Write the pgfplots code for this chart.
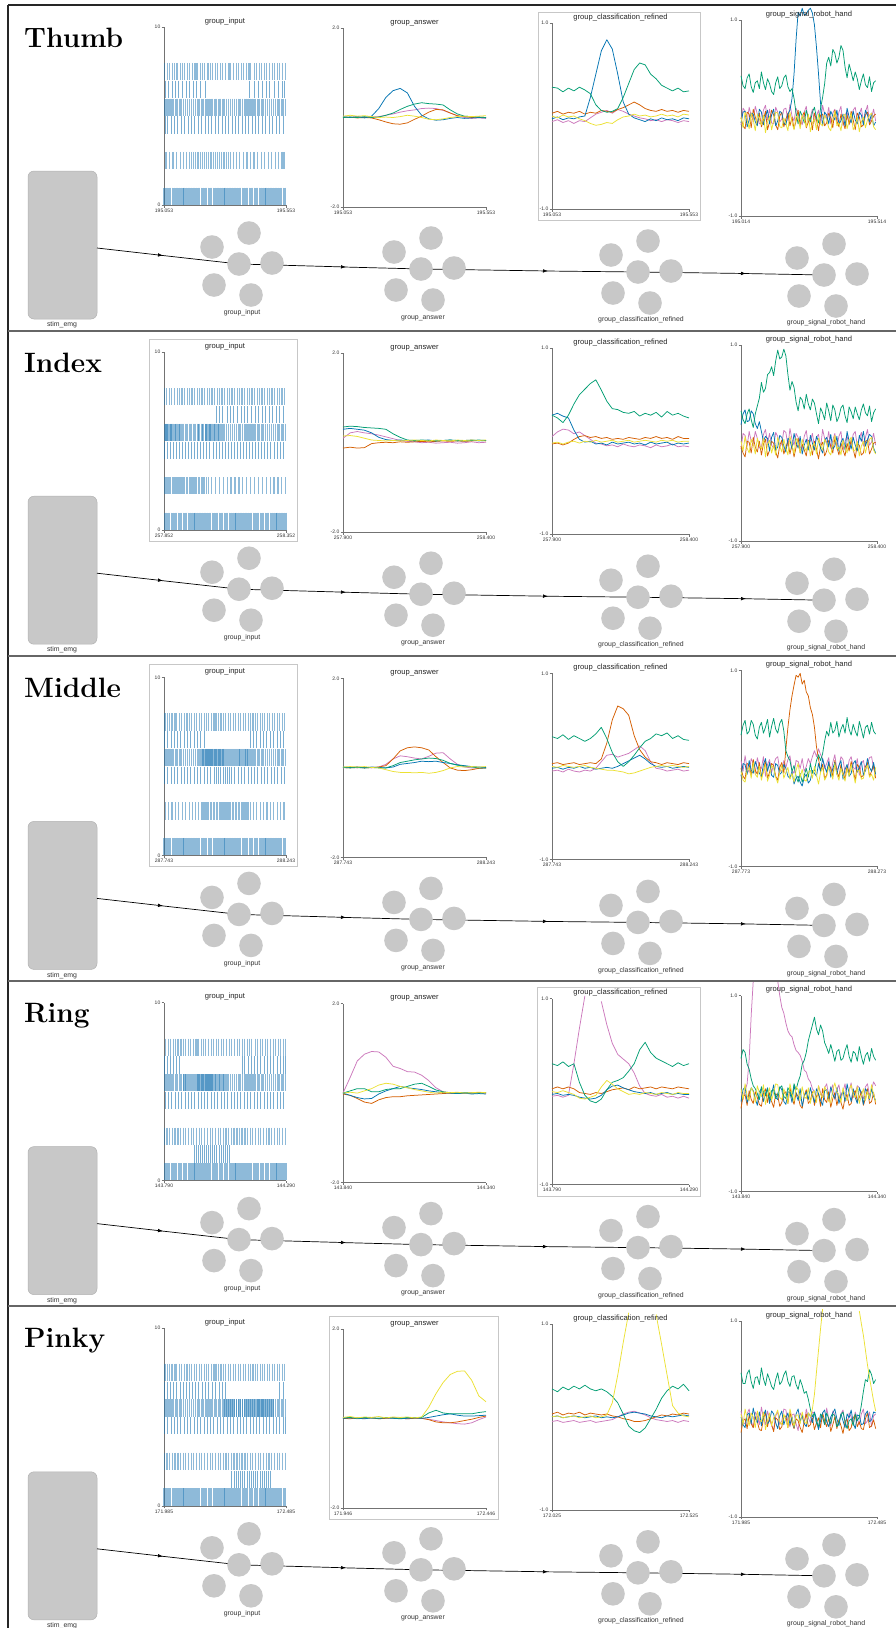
\documentclass[border=0pt]{standalone}
\usepackage{pgfplots}
\pgfplotsset{compat=1.18}
\usepackage{pgfplotstable}
\usepackage{fontspec}
\newfontfamily\lsans{Liberation Sans}
\usetikzlibrary{arrows.meta}
\definecolor{cB}{RGB}{1,115,178}
\definecolor{cG}{RGB}{2,158,115}
\definecolor{cO}{RGB}{213,94,0}
\definecolor{cP}{RGB}{204,120,188}
\definecolor{cY}{RGB}{236,225,51}
\definecolor{spkc}{RGB}{31,119,180}
\definecolor{nodegray}{RGB}{200,200,200}

% ---------------- spike trains (ms after window start) ----------------
\pgfplotstableread[row sep=\\]{t\\3\\14\\22\\35\\44\\53\\66\\75\\83\\97\\106\\118\\127\\135\\149\\158\\167\\180\\191\\199\\212\\220\\233\\241\\252\\266\\274\\285\\296\\305\\318\\327\\339\\348\\356\\370\\379\\391\\400\\412\\421\\433\\444\\452\\466\\475\\487\\497\\}\spkMa
\pgfplotstableread[row sep=\\]{t\\2\\11\\23\\31\\42\\54\\62\\74\\83\\95\\103\\115\\124\\136\\144\\156\\165\\177\\185\\197\\206\\218\\226\\238\\247\\259\\267\\279\\288\\300\\308\\320\\329\\341\\349\\361\\370\\382\\390\\402\\411\\423\\431\\443\\452\\464\\472\\484\\493\\}\spkMb
\pgfplotstableread[row sep=\\]{t\\4\\13\\24\\33\\45\\52\\64\\73\\85\\94\\104\\113\\125\\134\\145\\153\\165\\174\\184\\194\\205\\213\\225\\234\\245\\253\\265\\274\\285\\294\\304\\313\\325\\334\\345\\353\\365\\374\\384\\394\\405\\413\\425\\434\\445\\453\\465\\474\\485\\494\\}\spkMc
\pgfplotstableread[row sep=\\]{t\\7\\18\\26\\39\\48\\57\\70\\79\\87\\101\\110\\122\\131\\139\\153\\162\\171\\184\\195\\203\\216\\224\\237\\245\\256\\270\\278\\289\\300\\309\\322\\331\\343\\352\\360\\374\\383\\395\\404\\416\\425\\437\\448\\456\\470\\479\\491\\499\\}\spkMd
\pgfplotstableread[row sep=\\]{t\\5\\19\\33\\46\\61\\74\\92\\105\\119\\133\\150\\168\\352\\371\\386\\402\\419\\433\\451\\468\\484\\495\\}\spkSa
\pgfplotstableread[row sep=\\]{t\\214\\229\\241\\258\\272\\285\\301\\316\\330\\344\\359\\373\\388\\402\\417\\431\\446\\460\\474\\489\\}\spkSb
\pgfplotstableread[row sep=\\]{t\\2\\16\\29\\41\\55\\68\\83\\96\\110\\124\\138\\151\\164\\353\\366\\380\\394\\408\\421\\436\\450\\464\\478\\491\\}\spkSc
\pgfplotstableread[row sep=\\]{t\\1\\14\\27\\40\\52\\65\\320\\331\\345\\358\\370\\384\\397\\410\\424\\437\\450\\463\\477\\490\\498\\}\spkSd
\pgfplotstableread[row sep=\\]{t\\3\\15\\27\\40\\52\\66\\78\\91\\104\\117\\130\\143\\157\\171\\184\\198\\212\\226\\239\\250\\472\\490\\}\spkSe
\pgfplotstableread[row sep=\\]{t\\1\\9\\17\\24\\33\\40\\49\\56\\65\\72\\81\\88\\97\\104\\113\\121\\128\\137\\144\\153\\160\\169\\176\\185\\193\\200\\209\\216\\225\\232\\241\\249\\256\\265\\272\\281\\289\\296\\305\\312\\321\\329\\336\\345\\352\\361\\369\\376\\385\\392\\401\\409\\416\\425\\432\\441\\449\\456\\465\\472\\481\\488\\497\\}\spkDa
\pgfplotstableread[row sep=\\]{t\\5\\13\\28\\45\\61\\77\\92\\109\\124\\141\\157\\172\\189\\205\\221\\236\\}\spkXb
\pgfplotstableread[row sep=\\]{t\\150\\157\\164\\172\\180\\188\\197\\205\\213\\221\\229\\237\\245\\253\\261\\269\\277\\285\\293\\301\\309\\317\\325\\333\\341\\}\spkXc
\pgfplotstableread[row sep=\\]{t\\80\\86\\92\\100\\108\\116\\124\\132\\140\\148\\156\\164\\172\\180\\188\\196\\204\\212\\220\\228\\236\\244\\252\\260\\}\spkXd
\pgfplotstableread[row sep=\\]{t\\250\\258\\266\\274\\282\\290\\298\\306\\314\\322\\330\\338\\346\\354\\362\\370\\378\\386\\394\\402\\410\\418\\426\\434\\442\\450\\}\spkXe
\pgfplotstableread[row sep=\\]{t\\4\\16\\31\\43\\57\\70\\84\\99\\111\\126\\140\\153\\168\\182\\195\\209\\224\\238\\251\\266\\279\\293\\307\\320\\334\\348\\361\\376\\389\\404\\417\\431\\446\\459\\474\\489\\}\spkFa
\pgfplotstableread[row sep=\\]{t\\3\\14\\27\\38\\52\\63\\77\\88\\101\\113\\126\\138\\151\\163\\176\\188\\201\\213\\226\\238\\251\\263\\276\\288\\301\\313\\326\\338\\351\\363\\376\\388\\401\\413\\426\\438\\451\\463\\476\\488\\}\spkFb
\pgfplotstableread[row sep=\\]{t\\3\\16\\29\\43\\56\\70\\83\\97\\110\\124\\137\\151\\164\\178\\191\\205\\215\\225\\233\\242\\250\\258\\267\\276\\290\\304\\318\\331\\345\\358\\372\\385\\399\\412\\426\\439\\453\\466\\480\\493\\}\spkFc
\pgfplotstableread[row sep=\\]{t\\5\\18\\32\\45\\59\\72\\86\\99\\113\\126\\140\\153\\167\\180\\194\\207\\221\\234\\248\\261\\275\\288\\302\\315\\329\\342\\356\\369\\383\\396\\410\\423\\437\\450\\464\\477\\490\\}\spkFd
\pgfplotstableread[row sep=\\]{t\\2\\15\\29\\42\\56\\69\\83\\96\\110\\123\\137\\150\\164\\177\\191\\204\\218\\231\\245\\258\\272\\285\\299\\312\\326\\339\\353\\366\\380\\393\\407\\420\\434\\447\\461\\474\\488\\499\\}\spkFe
\pgfplotstableread[row sep=\\]{t\\8\\22\\37\\51\\66\\80\\92\\103\\112\\120\\128\\136\\143\\151\\158\\166\\173\\181\\189\\196\\204\\212\\220\\228\\237\\246\\255\\265\\274\\285\\297\\311\\326\\340\\355\\369\\384\\398\\413\\427\\441\\456\\470\\484\\492\\}\spkTa
\pgfplotstableread[row sep=\\]{t\\1\\6\\12\\17\\23\\28\\34\\40\\45\\51\\57\\62\\68\\74\\80\\85\\91\\97\\103\\109\\115\\121\\127\\134\\140\\147\\153\\160\\167\\175\\182\\196\\212\\228\\243\\259\\275\\291\\307\\323\\339\\355\\371\\387\\403\\419\\435\\451\\467\\483\\497\\}\spkTb
\pgfplotstableread[row sep=\\]{t\\5\\19\\33\\47\\61\\75\\89\\103\\117\\130\\142\\153\\160\\166\\172\\178\\184\\190\\196\\202\\208\\214\\220\\226\\232\\238\\244\\250\\256\\262\\268\\274\\280\\286\\292\\298\\304\\310\\316\\322\\328\\334\\340\\347\\355\\366\\380\\394\\408\\422\\436\\450\\464\\478\\492\\}\spkTc
\pgfplotstableread[row sep=\\]{t\\2\\12\\24\\34\\45\\57\\67\\79\\89\\100\\112\\122\\134\\144\\155\\167\\177\\189\\199\\210\\222\\232\\244\\254\\265\\277\\287\\299\\309\\320\\332\\342\\354\\364\\375\\387\\397\\409\\419\\430\\442\\452\\464\\474\\485\\497\\}\spkTd
\pgfplotstableread[row sep=\\]{t\\126\\134\\141\\150\\158\\166\\175\\183\\191\\200\\208\\217\\226\\234\\243\\252\\261\\270\\}\spkOd
\pgfplotstableread[row sep=\\]{t\\278\\287\\296\\305\\313\\322\\331\\340\\349\\358\\367\\376\\385\\394\\403\\412\\421\\430\\437\\}\spkOe
\pgfplotstableread[row sep=\\]{t\\0\\7\\14\\20\\27\\35\\41\\48\\56\\62\\69\\77\\83\\90\\98\\104\\111\\119\\125\\132\\140\\146\\153\\161\\167\\174\\182\\188\\195\\203\\209\\216\\224\\230\\237\\245\\251\\258\\266\\272\\279\\287\\293\\300\\308\\314\\321\\329\\335\\342\\350\\356\\363\\371\\377\\384\\392\\398\\405\\413\\419\\426\\434\\440\\447\\455\\461\\468\\476\\482\\489\\497\\}\spkVa
\pgfplotstableread[row sep=\\]{t\\3\\10\\17\\23\\30\\38\\44\\51\\59\\65\\72\\80\\86\\93\\101\\107\\114\\122\\128\\135\\143\\149\\156\\164\\170\\177\\185\\191\\198\\206\\212\\219\\227\\233\\240\\248\\254\\261\\269\\275\\282\\290\\296\\303\\311\\317\\324\\332\\338\\345\\353\\359\\366\\374\\380\\387\\395\\401\\408\\416\\422\\429\\437\\443\\450\\458\\464\\471\\479\\485\\492\\499\\}\spkVb

% ---------------- group_answer ----------------
\pgfplotstableread{
t b o g p y
0 0.02 0.00 0.00 0.01 0.03
25 0.00 0.01 0.01 0.00 0.05
50 0.02 -0.01 0.00 0.02 0.03
75 -0.01 0.00 0.02 0.00 0.04
100 0.03 -0.01 0.00 0.01 0.02
125 0.20 -0.05 0.01 0.02 0.00
150 0.45 -0.10 0.05 0.05 0.01
175 0.60 -0.14 0.10 0.08 0.00
200 0.65 -0.15 0.18 0.12 0.02
225 0.55 -0.12 0.25 0.15 0.05
250 0.25 -0.04 0.30 0.17 0.03
275 0.05 0.03 0.33 0.20 0.00
300 -0.03 0.12 0.31 0.21 -0.04
325 -0.06 0.18 0.30 0.20 -0.05
350 -0.05 0.17 0.28 0.16 -0.03
375 -0.02 0.10 0.17 0.10 0.00
400 0.00 0.04 0.08 0.04 0.02
425 -0.02 0.02 0.03 0.00 0.03
450 -0.01 0.00 0.02 -0.02 0.02
475 0.00 0.01 0.01 -0.01 0.03
500 -0.01 0.00 0.00 -0.02 0.04
}\Aa
\pgfplotstableread{
t b o g p y
0 0.30 -0.12 0.35 0.10 0.15
25 0.32 -0.10 0.37 0.22 0.16
50 0.30 -0.12 0.36 0.25 0.14
75 0.28 -0.11 0.34 0.22 0.10
100 0.22 -0.02 0.33 0.20 0.06
125 0.12 0.00 0.32 0.17 0.05
150 0.07 0.01 0.30 0.13 0.04
175 0.05 0.00 0.20 0.09 0.05
200 0.06 0.02 0.12 0.05 0.04
225 0.05 0.01 0.06 0.03 0.05
250 0.04 0.02 0.05 0.02 0.06
275 0.05 0.03 0.06 0.00 0.05
300 0.06 0.02 0.05 0.01 0.04
325 0.04 0.03 0.04 -0.01 0.06
350 0.05 0.04 0.05 0.00 0.05
375 0.06 0.03 0.06 0.01 0.04
400 0.04 0.04 0.05 -0.01 0.06
425 0.05 0.03 0.04 0.00 0.05
450 0.06 0.04 0.05 0.02 0.06
475 0.04 0.05 0.06 0.00 0.05
500 0.05 0.04 0.05 0.01 0.06
}\Ab
\pgfplotstableread{
t b o g p y
0 0.02 0.01 0.01 0.00 0.02
25 0.01 0.00 0.00 0.01 0.03
50 0.02 0.02 0.01 0.00 0.02
75 0.00 0.00 0.00 0.01 0.03
100 0.02 0.01 0.01 0.00 0.01
125 0.01 0.02 0.00 0.02 0.00
150 0.00 0.05 0.00 0.08 -0.04
175 0.02 0.20 0.05 0.20 -0.08
200 0.08 0.38 0.12 0.27 -0.10
225 0.10 0.45 0.15 0.25 -0.10
250 0.12 0.47 0.18 0.22 -0.11
275 0.15 0.45 0.20 0.20 -0.10
300 0.14 0.40 0.22 0.26 -0.12
325 0.15 0.25 0.21 0.33 -0.10
350 0.12 0.12 0.17 0.34 -0.06
375 0.10 0.00 0.10 0.20 0.00
400 0.07 -0.05 0.06 0.08 0.03
425 0.05 -0.06 0.04 0.02 0.02
450 0.03 -0.04 0.02 0.00 0.03
475 0.02 -0.01 0.00 -0.01 0.02
500 0.01 0.00 0.00 0.00 0.03
}\Ac
\pgfplotstableread{
t b o g p y
0 0.00 -0.02 0.00 0.00 0.00
25 -0.05 -0.05 0.05 0.35 0.02
50 -0.10 -0.12 0.10 0.72 0.00
75 -0.13 -0.20 0.10 0.87 0.05
100 -0.12 -0.23 0.03 0.93 0.10
125 -0.02 -0.15 0.03 0.92 0.18
150 0.05 -0.10 0.08 0.80 0.22
175 0.10 -0.08 0.10 0.60 0.20
200 0.15 -0.08 0.10 0.55 0.15
225 0.12 -0.06 0.15 0.48 0.12
250 0.10 -0.05 0.20 0.47 0.08
275 0.08 -0.04 0.22 0.40 0.05
300 0.05 -0.03 0.15 0.28 0.02
325 0.03 -0.02 0.07 0.12 0.00
350 0.01 -0.01 0.03 0.03 0.02
375 0.00 0.00 0.01 0.00 0.01
400 -0.01 -0.01 0.00 0.01 0.02
425 0.00 0.00 0.01 -0.01 0.00
450 -0.02 0.00 0.00 0.00 0.01
475 -0.01 0.01 0.00 0.01 0.02
500 -0.02 0.00 0.01 0.00 0.01
}\Ad
\pgfplotstableread{
t b o g p y
0 0.00 0.00 0.01 0.00 0.02
25 0.01 -0.01 0.02 0.01 0.04
50 0.00 0.01 0.00 -0.01 0.01
75 -0.01 0.00 0.02 0.00 0.03
100 0.01 0.01 0.01 0.01 0.02
125 0.00 -0.01 0.00 -0.01 0.04
150 0.01 0.00 0.02 0.00 0.01
175 0.00 0.01 0.01 0.01 0.03
200 -0.01 0.00 0.00 0.00 0.02
225 0.00 -0.01 0.02 -0.01 0.03
250 0.01 0.00 0.01 0.00 0.01
275 0.00 0.00 0.02 0.00 0.03
300 0.02 -0.03 0.12 -0.02 0.25
325 0.05 -0.08 0.18 -0.05 0.55
350 0.08 -0.10 0.12 -0.08 0.80
375 0.10 -0.10 0.10 -0.10 0.98
400 0.07 -0.08 0.10 -0.12 1.05
425 0.05 -0.05 0.10 -0.13 1.06
450 0.05 -0.02 0.10 -0.10 0.85
475 0.06 0.02 0.13 -0.03 0.50
500 0.07 0.05 0.15 0.03 0.37
}\Ae

% ---------------- group_classification_refined ----------------
\pgfplotstableread{
t b o g p y
0 -0.03 0.03 0.31 -0.06 0.00
20 -0.01 0.05 0.30 -0.04 -0.02
40 -0.04 0.02 0.26 -0.07 0.01
60 -0.02 0.04 0.30 -0.05 -0.01
80 -0.03 0.03 0.27 -0.08 0.00
100 -0.01 0.05 0.31 -0.05 -0.03
120 0.00 0.02 0.28 -0.06 -0.05
140 0.20 0.04 0.24 -0.02 -0.08
160 0.45 0.03 0.12 0.02 -0.10
180 0.70 0.06 0.06 0.04 -0.09
200 0.82 0.05 0.04 0.06 -0.07
220 0.72 0.04 0.05 0.03 -0.08
240 0.45 0.07 0.08 0.07 -0.04
260 0.15 0.09 0.20 0.05 -0.01
280 0.02 0.12 0.35 0.02 0.00
300 -0.02 0.15 0.50 0.00 0.02
320 -0.04 0.12 0.57 -0.02 0.00
340 -0.06 0.08 0.55 -0.03 0.01
360 -0.03 0.06 0.45 -0.05 -0.01
380 -0.05 0.05 0.40 -0.04 0.00
400 -0.02 0.07 0.33 -0.06 0.02
420 -0.04 0.05 0.30 -0.04 0.00
440 -0.03 0.06 0.27 -0.05 0.01
460 -0.05 0.04 0.30 -0.07 -0.01
480 -0.02 0.06 0.26 -0.05 0.02
500 -0.03 0.05 0.27 -0.06 0.01
}\Ca
\pgfplotstableread{
t b o g p y
0 0.28 -0.03 0.28 0.05 -0.02
20 0.30 -0.02 0.25 0.10 -0.01
40 0.27 -0.04 0.20 0.13 -0.03
60 0.25 -0.02 0.28 0.12 -0.01
80 0.12 0.02 0.40 0.08 0.00
100 0.02 0.05 0.50 0.10 -0.02
120 -0.01 0.06 0.56 0.06 0.00
140 0.00 0.04 0.62 0.02 -0.01
160 -0.03 0.05 0.66 -0.02 0.01
180 -0.02 0.03 0.55 -0.03 -0.01
200 -0.04 0.04 0.43 -0.05 0.00
220 -0.01 0.02 0.35 -0.04 0.01
240 -0.03 0.03 0.34 -0.06 -0.01
260 -0.02 0.02 0.31 -0.03 0.00
280 -0.01 0.04 0.30 -0.05 0.01
300 -0.03 0.03 0.32 -0.06 -0.01
320 -0.02 0.02 0.27 -0.04 0.00
340 -0.04 0.04 0.30 -0.05 0.01
360 -0.01 0.03 0.28 -0.07 0.00
380 -0.03 0.05 0.31 -0.04 -0.01
400 -0.02 0.03 0.26 -0.06 0.01
420 -0.01 0.04 0.32 -0.05 0.00
440 -0.04 0.02 0.28 -0.03 0.01
460 -0.02 0.05 0.30 -0.06 -0.01
480 -0.03 0.03 0.27 -0.05 0.00
500 -0.02 0.03 0.25 -0.06 0.00
}\Cb
\pgfplotstableread{
t b o g p y
0 -0.02 0.03 0.32 -0.05 0.00
20 -0.01 0.04 0.30 -0.04 -0.01
40 -0.03 0.02 0.34 -0.06 0.01
60 -0.01 0.03 0.29 -0.03 0.00
80 -0.02 0.04 0.33 -0.05 -0.01
100 0.00 0.02 0.30 -0.06 0.00
120 -0.02 0.03 0.27 -0.04 0.01
140 -0.01 0.04 0.30 -0.05 -0.01
160 -0.03 0.03 0.35 -0.02 -0.02
180 -0.02 0.08 0.42 0.05 -0.03
200 -0.01 0.25 0.30 0.12 -0.04
220 -0.02 0.50 0.15 0.13 -0.04
240 0.00 0.65 0.05 0.10 -0.05
260 0.03 0.62 0.00 0.12 -0.06
280 0.06 0.55 0.05 0.14 -0.08
300 0.09 0.33 0.12 0.18 -0.07
320 0.12 0.18 0.20 0.22 -0.05
340 0.08 0.10 0.27 0.17 -0.03
360 0.03 0.05 0.30 0.05 -0.01
380 0.00 0.04 0.35 -0.02 0.00
400 -0.01 0.02 0.33 -0.03 0.01
420 0.00 0.04 0.36 -0.05 0.00
440 -0.02 0.03 0.30 -0.04 0.01
460 -0.01 0.02 0.33 -0.03 0.00
480 0.00 0.04 0.29 -0.05 -0.01
500 -0.01 0.03 0.28 -0.04 0.00
}\Cc
\pgfplotstableread{
t b o g p y
0 -0.03 0.03 0.30 -0.05 0.00
20 -0.02 0.05 0.28 -0.04 -0.01
40 -0.04 0.03 0.32 -0.06 0.01
60 -0.03 0.05 0.27 -0.04 -0.01
80 -0.04 0.03 0.30 0.30 -0.03
100 -0.06 -0.01 0.10 0.68 -0.07
120 -0.07 -0.02 -0.04 1.03 -0.08
140 -0.08 -0.03 -0.10 nan -0.06
160 -0.07 -0.01 -0.12 nan -0.04
180 -0.04 -0.02 -0.08 0.97 0.05
200 0.02 0.00 0.02 0.72 0.12
220 0.06 0.02 0.10 0.52 0.08
240 0.07 0.03 0.12 0.40 0.03
260 0.04 0.04 0.15 0.35 0.00
280 0.02 0.02 0.22 0.30 -0.03
300 0.00 0.05 0.30 0.20 -0.02
320 -0.01 0.03 0.45 0.06 -0.03
340 -0.02 0.04 0.53 -0.02 -0.01
360 -0.01 0.05 0.42 -0.04 -0.02
380 -0.03 0.03 0.36 -0.05 -0.03
400 -0.02 0.05 0.33 -0.03 -0.01
420 -0.01 0.04 0.30 -0.06 -0.02
440 -0.03 0.03 0.27 -0.05 -0.03
460 -0.02 0.05 0.31 -0.07 -0.01
480 -0.03 0.04 0.28 -0.05 -0.02
500 -0.03 0.03 0.30 -0.07 -0.02
}\Cd
\pgfplotstableread{
t b o g p y
0 0.00 0.03 0.30 -0.05 0.00
20 0.01 0.05 0.27 -0.04 0.01
40 -0.01 0.02 0.32 -0.06 -0.01
60 0.00 0.04 0.29 -0.05 0.00
80 0.01 0.03 0.33 -0.04 0.01
100 0.00 0.05 0.30 -0.06 -0.01
120 -0.01 0.02 0.34 -0.05 0.00
140 0.00 0.04 0.30 -0.04 0.01
160 0.01 0.03 0.28 -0.06 -0.01
180 -0.01 0.02 0.30 -0.05 0.00
200 0.00 0.03 0.27 -0.04 0.02
220 -0.01 0.01 0.22 -0.03 0.15
240 0.00 0.00 0.15 0.00 0.45
260 0.02 -0.02 0.03 0.03 0.80
280 0.04 -0.03 -0.10 0.05 1.12
300 0.05 -0.05 -0.15 0.06 nan
320 0.04 -0.05 -0.17 0.04 nan
340 0.03 -0.04 -0.12 0.02 nan
360 0.01 -0.02 -0.02 -0.01 nan
380 0.00 0.00 0.08 -0.03 1.10
400 -0.01 0.02 0.20 -0.04 0.78
420 0.01 0.01 0.28 -0.05 0.45
440 0.00 0.03 0.33 -0.04 0.12
460 0.01 0.02 0.30 -0.06 0.04
480 0.02 0.04 0.35 -0.04 0.01
500 0.01 0.03 0.28 -0.05 0.00
}\Ce

% ---------------- group_signal_robot_hand ----------------
\pgfplotstableread{
t b o g p y
0 -0.05 0.00 0.43 -0.07 0.01
7.5 0.06 -0.08 0.33 0.10 -0.10
15 0.07 -0.11 0.30 0.07 0.06
22.5 -0.09 0.06 0.41 -0.04 -0.02
30 -0.02 0.04 0.45 0.11 -0.11
37.5 0.05 -0.10 0.32 0.02 0.05
45 0.04 0.09 0.26 -0.02 -0.02
52.5 -0.04 0.01 0.36 0.12 -0.13
60 -0.08 -0.06 0.38 0.04 0.04
67.5 0.09 0.05 0.30 -0.06 -0.01
75 0.06 -0.09 0.47 -0.05 -0.07
82.5 -0.07 -0.02 0.36 0.08 0.03
90 0.02 0.07 0.29 0.13 -0.15
97.5 0.08 -0.12 0.40 -0.02 -0.04
105 -0.06 -0.04 0.35 0.09 0.02
112.5 0.03 0.08 0.27 -0.05 -0.12
120 0.09 0.03 0.24 -0.06 -0.03
127.5 -0.08 -0.07 0.36 0.11 0.06
135 -0.03 -0.12 0.42 0.06 0.05
142.5 0.07 0.02 0.30 -0.04 -0.09
150 0.05 0.06 0.33 -0.01 -0.10
157.5 -0.05 -0.09 0.41 0.09 0.00
165 -0.07 -0.01 0.44 0.10 -0.06
172.5 0.04 0.05 0.32 -0.03 -0.13
180 0.08 -0.08 0.27 0.14 0.06
187.5 0.20 0.01 0.30 0.02 -0.05
195 0.45 -0.11 0.20 -0.03 -0.12
202.5 0.80 -0.03 0.05 0.10 0.02
210 1.08 0.08 -0.06 0.05 0.00
217.5 1.04 -0.08 0.07 -0.02 -0.11
225 1.12 0.02 0.02 -0.07 0.03
232.5 1.05 0.06 -0.05 0.06 -0.02
240 1.06 -0.10 0.08 0.12 -0.09
247.5 1.10 -0.04 0.00 -0.05 0.04
255 1.12 0.01 -0.04 0.01 -0.14
262.5 1.07 -0.12 0.06 0.09 -0.05
270 0.95 0.05 0.11 -0.04 -0.01
277.5 0.72 -0.02 0.00 0.02 -0.12
285 0.45 -0.13 -0.05 0.08 0.04
292.5 0.15 0.03 0.10 -0.06 -0.06
300 -0.08 0.04 0.21 0.13 -0.08
307.5 0.06 -0.08 0.35 0.04 0.03
315 0.03 -0.05 0.56 -0.01 -0.02
322.5 -0.06 0.05 0.62 0.11 -0.10
330 0.07 0.00 0.53 -0.06 -0.13
337.5 0.02 -0.10 0.70 0.05 -0.01
345 -0.02 0.08 0.66 0.09 0.07
352.5 0.08 -0.03 0.56 -0.04 -0.08
360 -0.06 -0.09 0.62 0.06 -0.05
367.5 -0.03 0.04 0.74 0.12 -0.13
375 0.04 -0.04 0.69 -0.08 0.02
382.5 -0.08 -0.11 0.52 0.03 0.04
390 0.10 0.03 0.41 0.07 -0.11
397.5 0.01 -0.06 0.55 -0.07 -0.03
405 -0.05 0.07 0.47 -0.02 0.05
412.5 0.07 -0.02 0.38 0.08 -0.12
420 -0.02 -0.12 0.47 0.11 -0.08
427.5 -0.06 0.05 0.40 -0.03 0.01
435 0.06 0.01 0.29 0.04 -0.14
442.5 0.03 -0.09 0.38 0.10 -0.04
450 -0.07 -0.07 0.45 -0.04 0.01
457.5 0.08 0.03 0.34 0.06 -0.10
465 0.03 0.06 0.31 0.13 -0.02
472.5 -0.04 -0.07 0.42 -0.05 0.03
480 0.05 -0.03 0.27 0.00 0.05
487.5 -0.08 0.02 0.36 0.09 -0.09
495 -0.04 0.04 0.38 -0.03 -0.12
}\Sa
\pgfplotstableread{
t b o g p y
0 0.19 -0.03 0.33 -0.06 0.02
7.5 0.30 -0.10 0.24 0.10 -0.08
15 0.34 -0.14 0.20 0.08 0.07
22.5 0.22 0.02 0.30 -0.03 -0.05
30 0.23 0.01 0.35 0.12 -0.10
37.5 0.33 -0.10 0.24 0.02 0.04
45 0.30 0.06 0.16 -0.01 -0.01
52.5 0.20 -0.04 0.30 0.12 -0.11
60 0.15 -0.09 0.38 0.05 0.05
67.5 0.22 0.02 0.46 -0.05 -0.02
75 0.12 -0.12 0.62 -0.04 -0.06
82.5 0.02 -0.01 0.52 0.09 0.05
90 0.07 0.04 0.56 0.14 -0.14
97.5 0.05 -0.13 0.70 0.00 -0.01
105 -0.08 -0.07 0.72 0.10 0.03
112.5 0.06 0.02 0.78 -0.02 -0.10
120 0.11 0.00 0.69 -0.05 -0.02
127.5 -0.07 -0.09 0.84 0.11 -0.12
135 -0.04 -0.15 0.95 0.07 0.06
142.5 0.08 -0.02 0.86 -0.04 -0.03
150 0.06 0.03 0.88 0.00 -0.09
157.5 -0.03 -0.11 0.96 0.13 0.04
165 -0.09 -0.04 0.89 0.11 -0.05
172.5 0.05 0.02 0.70 -0.03 -0.12
180 0.03 -0.11 0.54 0.15 0.07
187.5 -0.06 -0.01 0.63 0.04 -0.02
195 0.10 -0.14 0.57 -0.02 -0.11
202.5 0.01 -0.04 0.42 0.10 0.05
210 -0.05 0.05 0.33 0.06 0.01
217.5 0.07 -0.10 0.47 -0.04 -0.10
225 -0.11 -0.01 0.44 -0.06 0.04
232.5 -0.02 -0.07 0.35 0.07 -0.04
240 0.04 -0.13 0.50 0.13 -0.08
247.5 -0.07 0.03 0.40 -0.03 0.02
255 0.08 -0.02 0.34 0.02 -0.13
262.5 0.00 -0.12 0.45 0.10 -0.03
270 -0.07 0.02 0.41 -0.03 0.00
277.5 0.07 -0.06 0.30 0.06 -0.11
285 0.02 -0.16 0.20 0.09 0.05
292.5 -0.05 -0.03 0.36 -0.05 -0.02
300 -0.10 0.01 0.31 0.14 -0.07
307.5 0.03 -0.13 0.24 0.05 0.04
315 0.06 -0.08 0.41 0.00 -0.01
322.5 -0.04 0.03 0.33 0.12 -0.09
330 0.09 -0.03 0.23 -0.05 -0.12
337.5 -0.06 -0.10 0.39 0.03 -0.01
345 -0.03 0.05 0.34 0.10 0.08
352.5 0.07 -0.04 0.22 -0.04 -0.06
360 -0.08 -0.12 0.27 0.07 -0.04
367.5 0.01 0.00 0.36 0.12 -0.12
375 0.05 -0.07 0.39 -0.07 0.03
382.5 -0.07 -0.13 0.28 0.02 -0.05
390 0.12 0.00 0.21 0.08 -0.10
397.5 0.02 -0.08 0.37 -0.05 0.03
405 -0.06 0.04 0.32 -0.01 0.06
412.5 0.06 -0.06 0.25 0.09 -0.08
420 -0.02 -0.15 0.37 0.12 -0.07
427.5 -0.08 -0.01 0.30 -0.03 0.02
435 0.08 -0.02 0.24 0.05 -0.13
442.5 0.02 -0.12 0.34 0.11 -0.03
450 0.12 -0.10 0.40 -0.03 0.02
457.5 -0.03 0.02 0.31 0.06 -0.10
465 0.04 0.03 0.28 0.14 -0.01
472.5 0.09 -0.11 0.38 -0.02 0.04
480 0.07 -0.06 0.22 0.01 0.06
487.5 -0.05 0.00 0.31 0.10 -0.07
495 -0.10 0.01 0.35 -0.02 -0.11
}\Sb
\pgfplotstableread{
t b o g p y
0 -0.08 0.00 0.34 0.08 -0.03
7.5 0.05 -0.08 0.44 -0.03 -0.12
15 0.04 -0.11 0.49 0.13 -0.14
22.5 -0.06 0.05 0.35 0.00 -0.02
30 0.08 0.04 0.38 -0.04 0.01
37.5 -0.02 -0.07 0.49 0.10 -0.10
45 -0.05 0.09 0.45 0.05 0.06
52.5 0.07 -0.02 0.34 -0.05 -0.06
60 0.01 -0.06 0.30 0.11 -0.09
67.5 -0.05 0.06 0.42 0.02 0.02
75 -0.08 -0.09 0.47 0.00 -0.12
82.5 0.04 -0.03 0.36 0.12 -0.03
90 0.10 0.07 0.42 -0.08 0.04
97.5 -0.03 -0.10 0.50 0.04 -0.13
105 0.06 -0.04 0.32 0.09 -0.07
112.5 -0.07 0.05 0.43 -0.04 0.03
120 -0.09 0.03 0.51 0.04 0.00
127.5 0.05 -0.08 0.40 0.10 -0.09
135 0.03 -0.12 0.36 0.12 -0.15
142.5 -0.06 0.01 0.46 -0.02 -0.04
150 -0.04 0.06 0.50 -0.03 0.03
157.5 0.04 -0.05 0.38 0.08 -0.10
165 0.00 0.20 0.18 0.01 -0.04
172.5 -0.08 0.42 0.12 0.09 0.01
180 -0.10 0.60 0.08 0.13 -0.11
187.5 -0.03 0.74 -0.03 -0.02 -0.05
195 -0.16 0.85 0.03 -0.05 -0.14
202.5 -0.10 0.95 -0.08 0.08 -0.02
210 -0.08 0.93 -0.14 0.07 0.05
217.5 -0.14 0.97 -0.05 0.00 -0.09
225 -0.18 0.86 -0.14 0.10 -0.01
232.5 -0.09 0.90 -0.07 -0.03 -0.12
240 -0.06 0.78 0.00 0.02 -0.13
247.5 -0.15 0.74 -0.09 0.10 -0.04
255 -0.12 0.62 0.05 0.05 -0.02
262.5 -0.02 0.55 -0.05 0.12 -0.10
270 -0.05 0.42 -0.02 0.18 0.02
277.5 -0.08 0.22 0.08 0.12 -0.07
285 0.05 0.10 0.14 0.20 -0.16
292.5 -0.03 -0.03 0.08 0.14 -0.04
300 0.10 0.04 0.15 0.10 0.01
307.5 0.02 -0.10 0.28 0.00 -0.12
315 -0.04 -0.07 0.38 0.05 -0.08
322.5 0.07 0.05 0.33 0.11 0.02
330 -0.09 0.00 0.47 -0.06 -0.03
337.5 0.00 -0.08 0.36 0.06 -0.11
345 0.06 0.08 0.39 0.14 0.05
352.5 -0.06 -0.03 0.48 -0.02 -0.06
360 0.03 -0.09 0.32 0.02 -0.12
367.5 0.08 0.04 0.40 0.12 0.00
375 -0.11 -0.04 0.45 0.09 -0.07
382.5 -0.01 -0.11 0.36 -0.04 -0.13
390 0.04 0.03 0.52 -0.04 0.00
397.5 -0.08 -0.05 0.40 0.08 -0.08
405 -0.05 0.07 0.34 0.12 0.04
412.5 0.05 -0.02 0.45 0.01 -0.05
420 0.08 -0.12 0.38 -0.01 -0.15
427.5 -0.04 0.04 0.33 0.10 -0.02
435 0.01 0.01 0.48 -0.07 -0.02
442.5 0.07 -0.09 0.40 0.05 -0.11
450 -0.07 -0.07 0.31 0.08 -0.10
457.5 -0.02 0.02 0.42 -0.03 0.00
465 0.10 0.06 0.44 0.05 0.03
472.5 0.01 -0.08 0.35 0.11 -0.09
480 -0.03 -0.03 0.47 0.12 -0.06
487.5 0.06 0.03 0.38 0.00 -0.12
495 -0.06 -0.10 0.35 -0.05 0.01
}\Sc
\pgfplotstableread{
t b o g p y
0 -0.08 -0.15 0.36 0.02 0.05
7.5 0.04 -0.03 0.45 -0.06 -0.06
15 0.07 -0.01 0.42 0.03 0.10
22.5 -0.09 -0.12 0.30 0.10 -0.02
30 -0.04 0.03 0.25 0.35 -0.07
37.5 0.06 -0.06 0.15 0.80 0.06
45 0.03 -0.10 0.08 1.15 0.02
52.5 -0.05 0.02 0.05 nan -0.09
60 -0.12 -0.04 0.00 nan 0.08
67.5 0.02 -0.11 -0.06 nan 0.01
75 0.05 -0.13 0.07 nan -0.03
82.5 -0.08 0.00 0.02 nan 0.09
90 0.00 0.05 -0.02 nan -0.11
97.5 0.06 -0.09 0.05 nan -0.02
105 -0.10 0.01 -0.06 nan 0.06
112.5 -0.01 -0.08 0.03 nan -0.07
120 0.09 -0.14 0.04 nan 0.01
127.5 -0.04 0.00 -0.05 nan 0.10
135 -0.06 -0.02 0.00 1.15 0.09
142.5 0.07 -0.13 0.06 1.00 -0.04
150 0.04 -0.09 0.08 0.88 -0.06
157.5 -0.08 0.00 -0.03 0.82 0.05
165 -0.11 0.02 -0.05 0.72 -0.02
172.5 0.02 -0.10 0.06 0.64 -0.10
180 0.01 0.06 0.02 0.60 0.10
187.5 -0.09 -0.04 -0.04 0.58 0.00
195 0.08 -0.11 0.10 0.50 -0.08
202.5 0.00 0.01 0.04 0.44 0.07
210 -0.07 -0.03 0.12 0.42 0.04
217.5 0.05 -0.12 0.18 0.39 -0.07
225 -0.13 -0.15 0.30 0.33 0.07
232.5 -0.03 -0.02 0.34 0.24 -0.03
240 0.02 0.04 0.42 0.22 -0.05
247.5 -0.06 -0.10 0.54 0.15 0.06
255 0.06 -0.07 0.62 0.12 -0.10
262.5 -0.02 0.02 0.70 0.05 0.00
270 -0.09 -0.12 0.78 0.02 0.03
277.5 0.05 -0.03 0.66 -0.04 -0.09
285 0.00 0.00 0.60 0.08 0.08
292.5 -0.07 -0.13 0.70 0.01 -0.01
300 -0.12 0.05 0.64 -0.04 -0.04
307.5 0.03 -0.06 0.52 0.06 0.07
315 0.04 -0.09 0.47 0.10 0.02
322.5 -0.06 0.02 0.41 -0.02 -0.08
330 0.07 -0.14 0.50 0.03 -0.09
337.5 -0.01 -0.05 0.42 0.09 0.04
345 -0.05 0.01 0.33 -0.06 0.11
352.5 0.06 -0.12 0.43 0.04 0.02
360 -0.10 -0.02 0.45 0.09 -0.01
367.5 -0.02 -0.09 0.34 -0.04 -0.09
375 0.03 -0.16 0.36 0.02 0.06
382.5 -0.08 -0.04 0.44 0.10 -0.02
390 0.10 -0.01 0.50 -0.07 -0.07
397.5 0.00 -0.12 0.38 0.03 0.03
405 -0.08 -0.10 0.32 0.11 0.09
412.5 0.05 0.00 0.43 -0.04 -0.01
420 -0.04 0.03 0.41 0.00 -0.04
427.5 -0.10 -0.08 0.33 0.08 0.07
435 0.06 -0.04 0.48 0.06 -0.10
442.5 0.00 0.02 0.38 -0.03 -0.02
450 -0.11 -0.12 0.30 -0.05 0.05
457.5 0.05 -0.05 0.39 0.07 -0.07
465 0.02 0.05 0.42 0.10 0.02
472.5 -0.06 -0.10 0.33 -0.02 -0.05
480 0.05 -0.08 0.46 0.04 0.09
487.5 -0.03 0.01 0.38 0.12 -0.01
495 -0.07 -0.11 0.34 0.08 -0.08
}\Sd
\pgfplotstableread{
t b o g p y
0 0.02 -0.14 0.47 0.08 0.05
7.5 -0.06 -0.02 0.36 -0.04 -0.06
15 -0.09 0.00 0.36 -0.05 0.10
22.5 0.04 -0.10 0.46 0.05 0.00
30 0.06 0.04 0.50 0.10 -0.07
37.5 -0.05 -0.05 0.38 -0.02 0.06
45 0.11 -0.09 0.31 -0.09 0.02
52.5 0.01 0.02 0.42 0.07 -0.09
60 -0.04 -0.03 0.43 0.03 0.08
67.5 0.07 -0.11 0.35 -0.06 -0.01
75 -0.07 -0.12 0.52 0.12 -0.03
82.5 0.03 0.00 0.41 0.01 0.07
90 0.09 0.06 0.34 -0.06 -0.11
97.5 -0.05 -0.08 0.46 0.08 -0.02
105 -0.02 0.02 0.40 0.00 0.06
112.5 0.08 -0.06 0.33 -0.07 -0.07
120 0.05 -0.13 0.30 -0.11 0.01
127.5 -0.04 0.01 0.40 0.03 0.04
135 -0.10 -0.01 0.47 0.07 0.09
142.5 0.03 -0.11 0.35 -0.06 -0.03
150 0.08 -0.08 0.38 -0.02 -0.06
157.5 -0.06 0.02 0.45 0.10 0.05
165 0.01 0.03 0.49 0.09 -0.02
172.5 0.06 -0.09 0.38 -0.03 -0.09
180 -0.06 0.07 0.33 -0.08 0.10
187.5 0.02 -0.04 0.43 0.04 0.01
195 -0.09 -0.10 0.44 0.05 -0.08
202.5 0.05 0.00 0.35 -0.05 0.04
210 0.10 -0.02 0.30 -0.12 0.04
217.5 -0.03 -0.09 0.40 0.06 -0.05
225 0.04 -0.14 0.34 0.02 0.07
232.5 -0.05 -0.03 0.26 -0.06 -0.03
240 -0.08 0.05 0.28 0.10 -0.05
247.5 0.06 -0.08 0.20 0.01 0.06
255 0.03 -0.06 0.10 -0.04 0.02
262.5 -0.04 0.01 0.02 0.07 0.10
270 0.07 -0.11 0.06 0.06 0.25
277.5 0.00 -0.04 -0.04 -0.05 0.48
285 -0.11 0.01 -0.08 -0.10 0.70
292.5 -0.02 -0.09 0.05 0.04 0.92
300 0.06 0.06 0.02 0.01 1.12
307.5 0.09 -0.02 -0.06 -0.06 nan
315 -0.03 -0.08 0.06 0.11 nan
322.5 -0.08 0.01 0.00 0.00 nan
330 0.02 -0.13 -0.05 -0.07 nan
337.5 0.06 -0.06 0.05 0.08 nan
345 0.10 0.02 0.03 0.04 nan
352.5 0.00 -0.10 -0.08 -0.08 nan
360 -0.07 -0.01 -0.04 -0.03 nan
367.5 0.05 -0.07 0.04 0.05 nan
375 -0.02 -0.15 0.07 0.09 nan
382.5 -0.09 -0.03 -0.03 -0.04 nan
390 0.05 0.00 -0.10 -0.09 nan
397.5 0.01 -0.12 -0.02 0.06 nan
405 0.09 -0.09 0.00 0.02 nan
412.5 -0.04 0.01 -0.07 -0.05 nan
420 -0.10 0.04 0.05 0.07 nan
427.5 0.04 -0.08 -0.02 0.00 nan
435 0.03 -0.03 0.02 -0.06 1.10
442.5 -0.06 -0.10 0.14 0.05 0.97
450 -0.05 -0.11 0.28 0.10 0.85
457.5 0.05 0.00 0.40 -0.05 0.70
465 0.08 0.06 0.38 -0.02 0.55
472.5 -0.03 -0.09 0.50 0.07 0.42
480 -0.01 -0.07 0.45 -0.08 0.30
487.5 0.07 -0.01 0.36 0.03 0.18
495 0.06 -0.10 0.40 0.05 0.08
}\Se

\pgfplotsset{
  mp/.style={scale only axis, anchor=south west,
    axis lines=left, axis line style={-, draw=black!55, line width=0.6pt},
    xmin=0, xmax=500, xtick={0,500},
    tick align=outside, major tick length=2.5pt,
    tick style={draw=black!55, line width=0.5pt},
    ticklabel style={font=\lsans\fontsize{5}{5}\selectfont, text=black!80, inner sep=1pt},
    title style={font=\lsans\fontsize{7.6}{8}\selectfont, text=black!85, at={(0.5,1)}, anchor=south, yshift=-5pt, inner sep=1pt},
    clip=false, unbounded coords=jump, filter discard warning=false,
    every axis plot/.append style={line width=0.75pt, line join=round}},
  inp/.style={mp, at={(164pt,-205pt-#1pt)}, width=122pt, height=178pt, ymin=0, ymax=10,
    ytick={0,10}, yticklabels={0,10}, title={group\_input}},
  ans/.style={mp, at={(343pt,-207pt-#1pt)}, width=143pt, height=179pt, ymin=-2, ymax=2,
    ytick={-2,2}, yticklabels={-2.0,2.0}, title={group\_answer}},
  cls/.style={mp, at={(552pt,-209pt-#1pt)}, width=137pt, height=186pt, ymin=-1, ymax=1,
    ytick={-1,1}, yticklabels={-1.0,1.0}, title={group\_classification\_refined}},
  sig/.style={mp, at={(741pt,-216pt-#1pt)}, width=136pt, height=196pt, ymin=-1, ymax=1,
    ytick={-1,1}, yticklabels={-1.0,1.0}, title={group\_signal\_robot\_hand}},
  spk/.style={only marks, mark=|, mark size=8.6pt,
    mark options={draw=spkc, line width=#1, draw opacity=0.5}},
  spk/.default=1.2pt,
  sps/.style={only marks, mark=|, mark size=8.6pt,
    mark options={draw=spkc, line width=0.9pt, draw opacity=0.6}},
}

\newcommand{\five}[1]{%
  \addplot[cP] table[x=t,y=p]{#1};
  \addplot[cO] table[x=t,y=o]{#1};
  \addplot[cB] table[x=t,y=b]{#1};
  \addplot[cG] table[x=t,y=g]{#1};
  \addplot[cY] table[x=t,y=y]{#1};
}
\newcommand{\cluster}[2]{%
  \foreach \dx/\dy in {0/0,-27/-17,10/-31,33/-1,-25/21,12/31}{%
    \fill[nodegray] ({#1+\dx},{-(#2+\dy)}) circle[radius=11.8pt];}}
\newcommand{\netrow}[2]{% #1 label, #2 offset
  \begin{scope}[yshift=-#2pt]
  \node[anchor=base west, inner sep=0pt, font=\fontsize{28}{30}\selectfont\bfseries] at (24,-47) {#1};
  \draw[draw=black!30, fill=nodegray, rounded corners=6pt, line width=0.5pt] (28,-171) rectangle (97,-319);
  \begin{scope}[line width=0.7pt, black]
    \draw[-{Latex[length=5pt,width=3.6pt]}] (97,-248) -- (163,-255.5);
    \draw (161,-255.3) -- (239,-264);
    \draw[-{Latex[length=5pt,width=3.6pt]}] (239,-264) -- (346,-267);
    \draw (344,-267) -- (421,-269);
    \draw[-{Latex[length=5pt,width=3.6pt]}] (421,-269) -- (548,-271);
    \draw (546,-271) -- (638,-272);
    \draw[-{Latex[length=5pt,width=3.6pt]}] (638,-272) -- (746,-273.5);
    \draw (744,-273.5) -- (824,-275);
  \end{scope}
  \cluster{239}{264}\cluster{421}{269}\cluster{638}{272}\cluster{824}{275}
  \begin{scope}[every node/.style={font=\lsans\fontsize{6.9}{8}\selectfont, text=black!80, inner sep=0pt}]
    \node at (62,-325) {stim\_emg};
    \node at (242,-313) {group\_input};
    \node at (423,-318) {group\_answer};
    \node at (641,-320) {group\_classification\_refined};
    \node at (826,-323) {group\_signal\_robot\_hand};
  \end{scope}
  \end{scope}}

\begin{document}
\begin{tikzpicture}[x=1pt,y=1pt]
\useasboundingbox (0,0) rectangle (896,-1628);
\fill[white] (0,0) rectangle (896,-1628);

% selection frames
\draw[black!22, line width=0.9pt] (538,-12) rectangle (700,-220);
\draw[black!22, line width=0.9pt] (149,-339.2) rectangle (297,-541.2);
\draw[black!22, line width=0.9pt] (149,-664.4) rectangle (297,-866.4);
\draw[black!22, line width=0.9pt] (537,-987.6) rectangle (700,-1196.6);
\draw[black!22, line width=0.9pt] (329,-1316.8) rectangle (498,-1519.8);

\netrow{Thumb}{0}
\netrow{Index}{325.2}
\netrow{Middle}{650.4}
\netrow{Ring}{975.6}
\netrow{Pinky}{1300.8}

% ================= Row 1: Thumb =================
\begin{axis}[inp=0, xticklabels={195.053,195.553}]
\addplot[spk] table[x=t,y=t,y expr=7.5]{\spkMa};
\addplot[sps] table[x=t,y=t,y expr=6.5]{\spkSa};
\addplot[spk=1.4pt] table[x=t,y=t,y expr=5.5]{\spkDa};
\addplot[sps] table[x=t,y=t,y expr=4.5]{\spkFa};
\addplot[spk] table[x=t,y=t,y expr=2.5]{\spkTa};
\addplot[spk=1.6pt] table[x=t,y=t,y expr=0.5]{\spkVa};
\end{axis}
\begin{axis}[ans=0, xticklabels={195.053,195.553}] \five{\Aa} \end{axis}
\begin{axis}[cls=0, xticklabels={195.053,195.553}] \five{\Ca} \end{axis}
\begin{axis}[sig=0, xticklabels={195.014,195.514}] \five{\Sa} \end{axis}

% ================= Row 2: Index =================
\begin{axis}[inp=325.2, xticklabels={257.852,258.352}]
\addplot[spk] table[x=t,y=t,y expr=7.5]{\spkMb};
\addplot[sps] table[x=t,y=t,y expr=6.5]{\spkSb};
\addplot[spk=1.4pt] table[x=t,y=t,y expr=5.5]{\spkDa};
\addplot[spk=1.4pt] table[x=t,y=t,y expr=5.5]{\spkXb};
\addplot[sps] table[x=t,y=t,y expr=4.5]{\spkFb};
\addplot[spk] table[x=t,y=t,y expr=2.5]{\spkTb};
\addplot[spk=1.6pt] table[x=t,y=t,y expr=0.5]{\spkVb};
\end{axis}
\begin{axis}[ans=325.2, xticklabels={257.900,258.400}] \five{\Ab} \end{axis}
\begin{axis}[cls=325.2, xticklabels={257.900,258.400}] \five{\Cb} \end{axis}
\begin{axis}[sig=325.2, xticklabels={257.900,258.400}] \five{\Sb} \end{axis}

% ================= Row 3: Middle =================
\begin{axis}[inp=650.4, xticklabels={287.743,288.243}]
\addplot[spk] table[x=t,y=t,y expr=7.5]{\spkMc};
\addplot[sps] table[x=t,y=t,y expr=6.5]{\spkSc};
\addplot[spk=1.4pt] table[x=t,y=t,y expr=5.5]{\spkDa};
\addplot[spk=1.4pt] table[x=t,y=t,y expr=5.5]{\spkXc};
\addplot[sps] table[x=t,y=t,y expr=4.5]{\spkFc};
\addplot[spk] table[x=t,y=t,y expr=2.5]{\spkTc};
\addplot[spk=1.6pt] table[x=t,y=t,y expr=0.5]{\spkVa};
\end{axis}
\begin{axis}[ans=650.4, xticklabels={287.743,288.243}] \five{\Ac} \end{axis}
\begin{axis}[cls=650.4, xticklabels={287.743,288.243}] \five{\Cc} \end{axis}
\begin{axis}[sig=650.4, xticklabels={287.773,288.273}] \five{\Sc} \end{axis}

% ================= Row 4: Ring =================
\begin{axis}[inp=975.6, xticklabels={143.790,144.290}]
\addplot[spk] table[x=t,y=t,y expr=7.5]{\spkMd};
\addplot[sps] table[x=t,y=t,y expr=6.5]{\spkSd};
\addplot[spk=1.4pt] table[x=t,y=t,y expr=5.5]{\spkDa};
\addplot[spk=1.4pt] table[x=t,y=t,y expr=5.5]{\spkXd};
\addplot[sps] table[x=t,y=t,y expr=4.5]{\spkFd};
\addplot[spk] table[x=t,y=t,y expr=2.5]{\spkTd};
\addplot[sps] table[x=t,y=t,y expr=1.5]{\spkOd};
\addplot[spk=1.6pt] table[x=t,y=t,y expr=0.5]{\spkVb};
\end{axis}
\begin{axis}[ans=975.6, xticklabels={143.840,144.340}] \five{\Ad} \end{axis}
\begin{axis}[cls=975.6, xticklabels={143.790,144.290}] \five{\Cd} \end{axis}
\begin{axis}[sig=975.6, xticklabels={143.840,144.340}] \five{\Sd} \end{axis}

% ================= Row 5: Pinky =================
\begin{axis}[inp=1300.8, xticklabels={171.985,172.485}]
\addplot[spk] table[x=t,y=t,y expr=7.5]{\spkMc};
\addplot[sps] table[x=t,y=t,y expr=6.5]{\spkSe};
\addplot[spk=1.4pt] table[x=t,y=t,y expr=5.5]{\spkDa};
\addplot[spk=1.4pt] table[x=t,y=t,y expr=5.5]{\spkXe};
\addplot[sps] table[x=t,y=t,y expr=4.5]{\spkFe};
\addplot[spk] table[x=t,y=t,y expr=2.5]{\spkTd};
\addplot[sps] table[x=t,y=t,y expr=1.5]{\spkOe};
\addplot[spk=1.6pt] table[x=t,y=t,y expr=0.5]{\spkVa};
\end{axis}
\begin{axis}[ans=1300.8, xticklabels={171.946,172.446}] \five{\Ae} \end{axis}
\begin{axis}[cls=1300.8, xticklabels={172.025,172.525}] \five{\Ce} \end{axis}
\begin{axis}[sig=1300.8, xticklabels={171.985,172.485}] \five{\Se} \end{axis}

% outer frame and row separators
\draw[black!85, line width=1.6pt] (8,-5) -- (896,-5);
\draw[black!85, line width=1.2pt] (8,-5) -- (8,-1628);
\foreach \yy in {331,656,981,1306} \draw[black!60, line width=1.6pt] (8,-\yy) -- (896,-\yy);
\end{tikzpicture}
\end{document}
